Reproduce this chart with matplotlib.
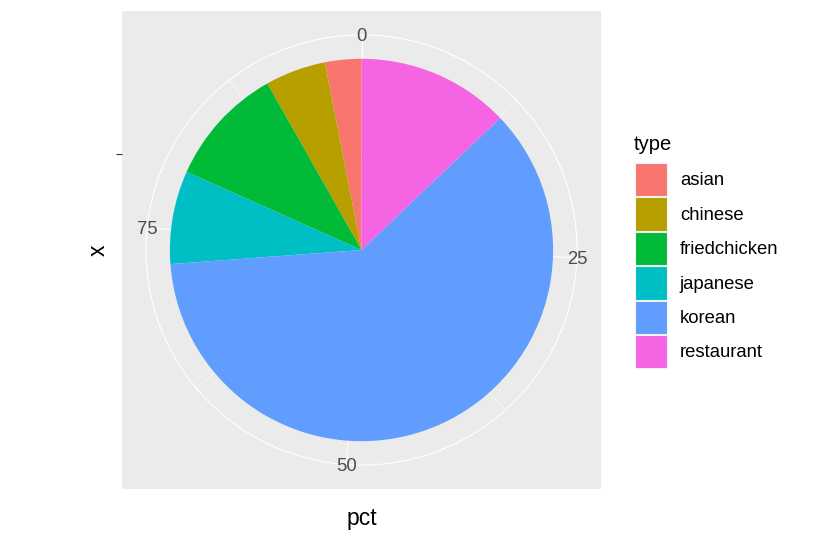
import numpy as np
import matplotlib.pyplot as plt

plt.rcParams['font.family'] = ['Liberation Sans', 'DejaVu Sans']

# data (pct by restaurant type)
types = ["asian", "chinese", "friedchicken", "japanese", "korean", "restaurant"]
pct = [3.0, 5.0, 9.9, 7.7, 59.6, 12.6]
colors = ["#F8766D", "#B79F00", "#00BA38", "#00BFC4", "#619CFF", "#F564E3"]
theta_breaks = [0, 25, 50, 75]
theta_minor = [12.5, 37.5, 62.5, 87.5]
theta_labels = ["0", "25", "50", "75"]

W, H = 831, 541
fig = plt.figure(figsize=(W / 100, H / 100), dpi=100)
ax = fig.add_axes([122 / W, (H - 489) / H, 479 / W, 478 / H])
ax.set_facecolor("#EBEBEB")

total = sum(pct)
R_PIE, R_GRID = 0.4, 0.45


def to_xy(v, r):
    a = 2 * np.pi * v / total
    return 0.5 + r * np.sin(a), 0.5 + r * np.cos(a)


# grid: circles + radial lines (behind the pie)
for r in [0.2, R_GRID]:
    ax.add_patch(plt.Circle((0.5, 0.5), r, fill=False, ec="white", lw=0.8, zorder=1))
for v in theta_breaks:
    x, y = to_xy(v, R_GRID)
    ax.plot([0.5, x], [0.5, y], color="white", lw=0.8, zorder=1)
for v in theta_minor:
    x, y = to_xy(v, R_GRID)
    ax.plot([0.5, x], [0.5, y], color="white", lw=0.4, zorder=1)

wedges, _ = ax.pie(pct, colors=colors, startangle=90, counterclock=True,
                   radius=R_PIE, center=(0.5, 0.5), frame=True,
                   wedgeprops=dict(linewidth=0, zorder=2))

for v, lab in zip(theta_breaks, theta_labels):
    x, y = to_xy(v, R_GRID)
    ax.text(x, y - 0.004, lab, ha="center", va="center", fontsize=13.3,
            color="#4D4D4D", zorder=3)

ax.set_aspect("auto")
ax.set_xlim(0, 1)
ax.set_ylim(0, 1)
ax.set_xticks([])
ax.set_yticks([0.5 + R_PIE / 2])
ax.set_yticklabels([""])
ax.tick_params(axis="y", length=4, width=0.8, color="#333333")
for s in ax.spines.values():
    s.set_visible(False)

ax.text(0.5, (489 - 519) / 478, "pct", transform=ax.transAxes,
        ha="center", va="center", fontsize=16.5)
ax.text((98 - 122) / 479, (489 - 250) / 478, "x", transform=ax.transAxes,
        ha="center", va="center", fontsize=16.5, rotation=90)

# legend
fig.text(634 / W, (H - 145) / H, "type", ha="left", va="center", fontsize=14.5)
leg = fig.legend(wedges, types, loc="upper left",
                 bbox_to_anchor=(635 / W, (H - 163) / H), frameon=False,
                 fontsize=13.3, handlelength=1.73, handleheight=2.41,
                 labelspacing=0.05, handletextpad=0.7,
                 borderpad=0, borderaxespad=0)
for h in leg.legend_handles:
    h.set_edgecolor("#F2F2F2")
    h.set_linewidth(0.8)

fig.savefig("out.png", dpi=100)
